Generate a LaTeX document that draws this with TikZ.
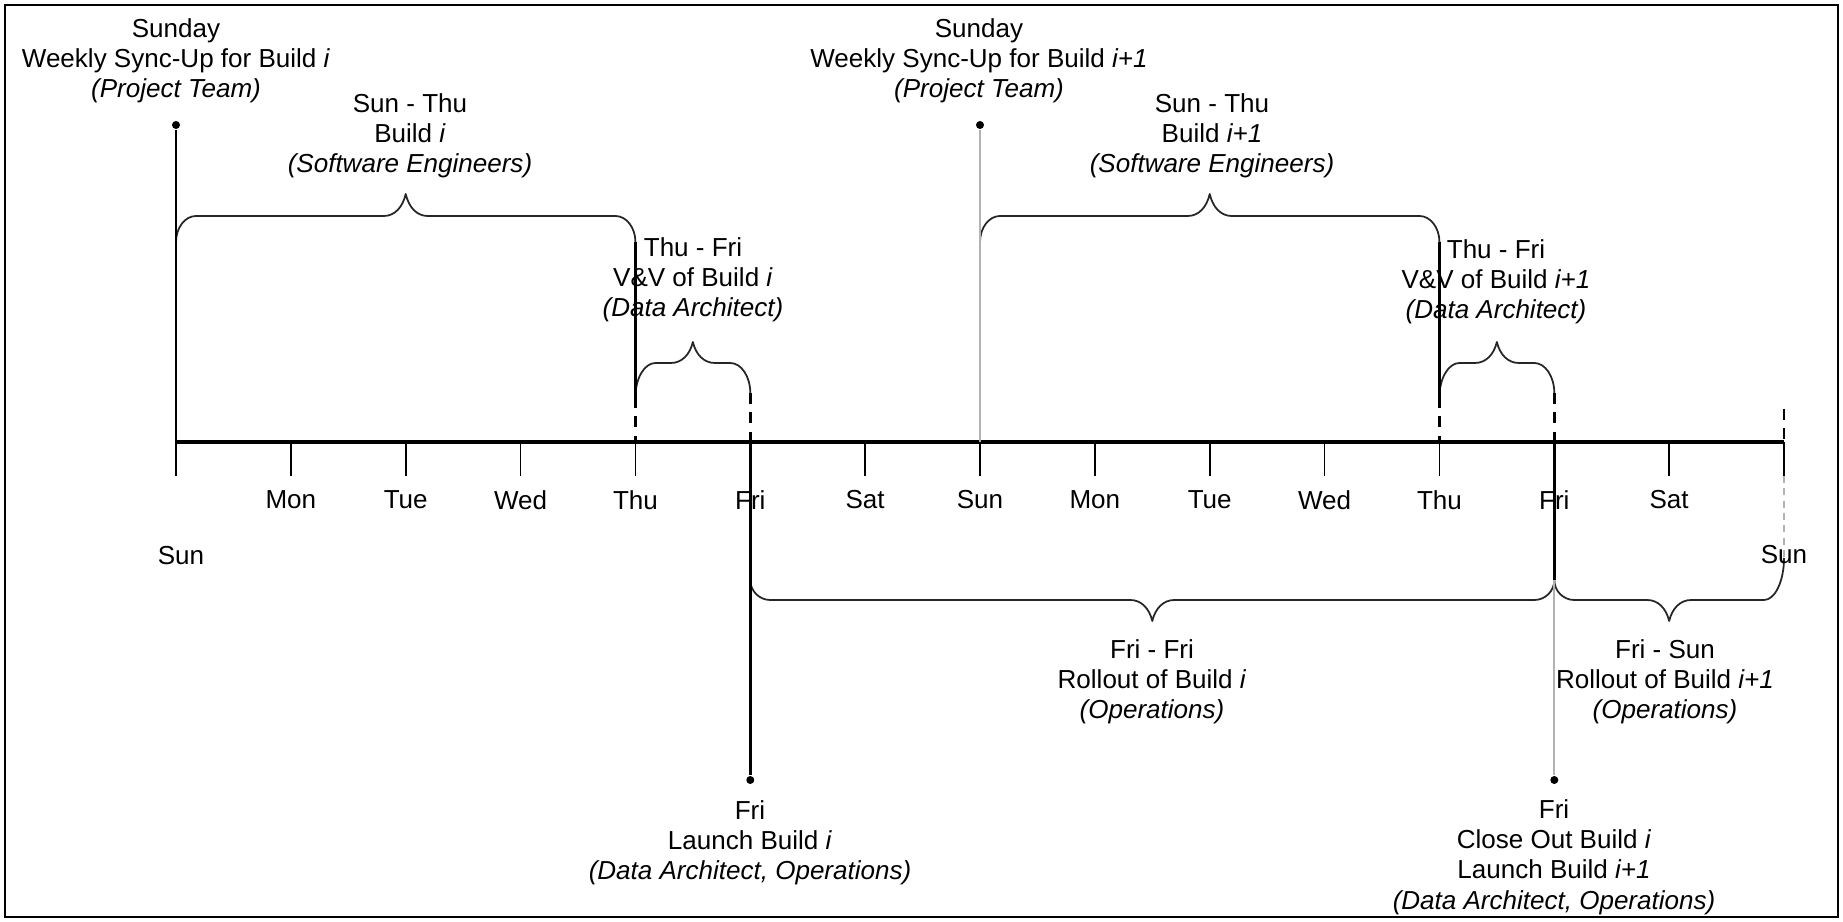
\documentclass[tikz,border=0pt]{standalone}
\usepackage{fontspec}
\setmainfont{Liberation Sans}
\usetikzlibrary{positioning,calc}

\begin{document}
\begin{tikzpicture}[x=0.01cm,y=-0.01cm,
  lbl/.style={align=center,font=\fontsize{7.4}{8.6}\selectfont,inner sep=0pt},
  day/.style={font=\fontsize{7.4}{8.6}\selectfont,inner sep=0pt},
  axisline/.style={line width=1.3pt},
  tick/.style={line width=0.5pt},
  marker/.style={line width=0.7pt},
  faint/.style={line width=0.6pt,gray!60},
  guide/.style={line width=0.7pt,dash pattern=on 3pt off 2.5pt},
  brc/.style={line width=0.5pt,line join=round,black!85},
  dot/.style={circle,fill,inner sep=0pt,minimum size=0.08cm}]
\useasboundingbox (0,0) rectangle (1843,922);
\draw[line width=0.6pt] (5,5) rectangle (1838,917);

% week axis
\foreach \i in {0,...,14} \coordinate (d\i) at ({176+114.857*\i},442);
\draw[axisline] (d0) -- (d14);
\foreach \i in {0,...,14} \draw[tick] (d\i) -- ++(0,34);
\foreach \i/\n in {1/Mon,2/Tue,3/Wed,4/Thu,5/Fri,6/Sat,7/Sun,8/Mon,9/Tue,10/Wed,11/Thu,12/Fri,13/Sat}
  \node[day] (lab\i) at ($(d\i)+(0,58)$) {\n};
\node[day] (lab0) at ($(d0)+(5,114)$) {Sun};

% braces above and below the axis
\foreach \a/\b/\yl/\yr/\ys/\yt [evaluate=\a as \xa using 176+114.857*\a,
    evaluate=\b as \xb using 176+114.857*\b,
    evaluate=\a as \xm using 176+114.857*(\a+\b)/2] in
  {0/4/242/242/216/194, 4/5/397/393/363/342, 7/11/242/242/216/194, 11/12/397/393/363/342,
   5/12/580/580/600/621, 12/14/580/558/600/621}
  \draw[brc] (\xa,\yl) .. controls (\xa,{\ys+0.45*(\yl-\ys)}) and ({\xa+9},\ys) .. ({\xa+20},\ys)
    -- ({\xm-22},\ys) .. controls ({\xm-11},\ys) and ({\xm-3},{\ys+0.4*(\yt-\ys)}) .. (\xm,\yt)
    .. controls ({\xm+3},{\ys+0.4*(\yt-\ys)}) and ({\xm+11},\ys) .. ({\xm+22},\ys)
    -- ({\xb-20},\ys) .. controls ({\xb-9},\ys) and (\xb,{\ys+0.45*(\yr-\ys)}) .. (\xb,\yr);

% brace ends down to the axis
\foreach \i in {4,7,11} {
  \draw[marker] ($(d\i)+(0,-200)$) -- ($(d\i)+(0,-45)$);
  \draw[guide] ($(d\i)+(0,-45)$) -- (d\i);
}
\foreach \i in {5,12} \draw[guide] ($(d\i)+(0,-49)$) -- (d\i);
\draw[guide] ($(d14)+(0,-33)$) -- (d14);
\coordinate (endsun) at ($(d14)+(0,116)$);
\draw[faint,dash pattern=on 2pt off 1.5pt] ($(d14)+(0,34)$) -- (endsun);

% milestones
\node[dot] (sync1) at (176,125) {};
\node[dot] (sync2) at ({176+114.857*7},125) {};
\node[dot] (launch1) at ({176+114.857*5},780) {};
\node[dot] (launch2) at ({176+114.857*12},780) {};
\coordinate (join2) at ($(d12)+(0,138)$);
\draw[marker] (sync1) -- (d0);
\draw[faint] (sync2) -- (d7);
\draw[marker] (d5) -- (launch1);
\draw[marker] (d12) -- (join2);
\draw[faint] (join2) -- (launch2);
\node[day] (lab14) at ($(d14)+(0,113)$) {Sun};

% labels
\node[lbl] (syncA) at (176,61) {Sunday\\Weekly Sync-Up for Build \textit{i}\\\textit{(Project Team)}};
\node[lbl] (buildA) at (410,136) {Sun - Thu\\Build \textit{i}\\\textit{(Software Engineers)}};
\node[lbl] (vvA) at (693,280) {Thu - Fri\\V\&V of Build \textit{i}\\\textit{(Data Architect)}};
\node[lbl] (syncB) at (979,61) {Sunday\\Weekly Sync-Up for Build \textit{i+1}\\\textit{(Project Team)}};
\node[lbl] (buildB) at (1212,136) {Sun - Thu\\Build \textit{i+1}\\\textit{(Software Engineers)}};
\node[lbl] (vvB) at (1496,282) {Thu - Fri\\V\&V of Build \textit{i+1}\\\textit{(Data Architect)}};
\node[lbl] (rollA) at (1152,682) {Fri - Fri\\Rollout of Build \textit{i}\\\textit{(Operations)}};
\node[lbl] (rollB) at (1665,682) {Fri - Sun\\Rollout of Build \textit{i+1}\\\textit{(Operations)}};
\node[lbl] (launchA) at (750,843) {Fri\\Launch Build \textit{i}\\\textit{(Data Architect, Operations)}};
\node[lbl] (launchB) at (1554,857) {Fri\\Close Out Build \textit{i}\\Launch Build \textit{i+1}\\\textit{(Data Architect, Operations)}};
\end{tikzpicture}
\end{document}
